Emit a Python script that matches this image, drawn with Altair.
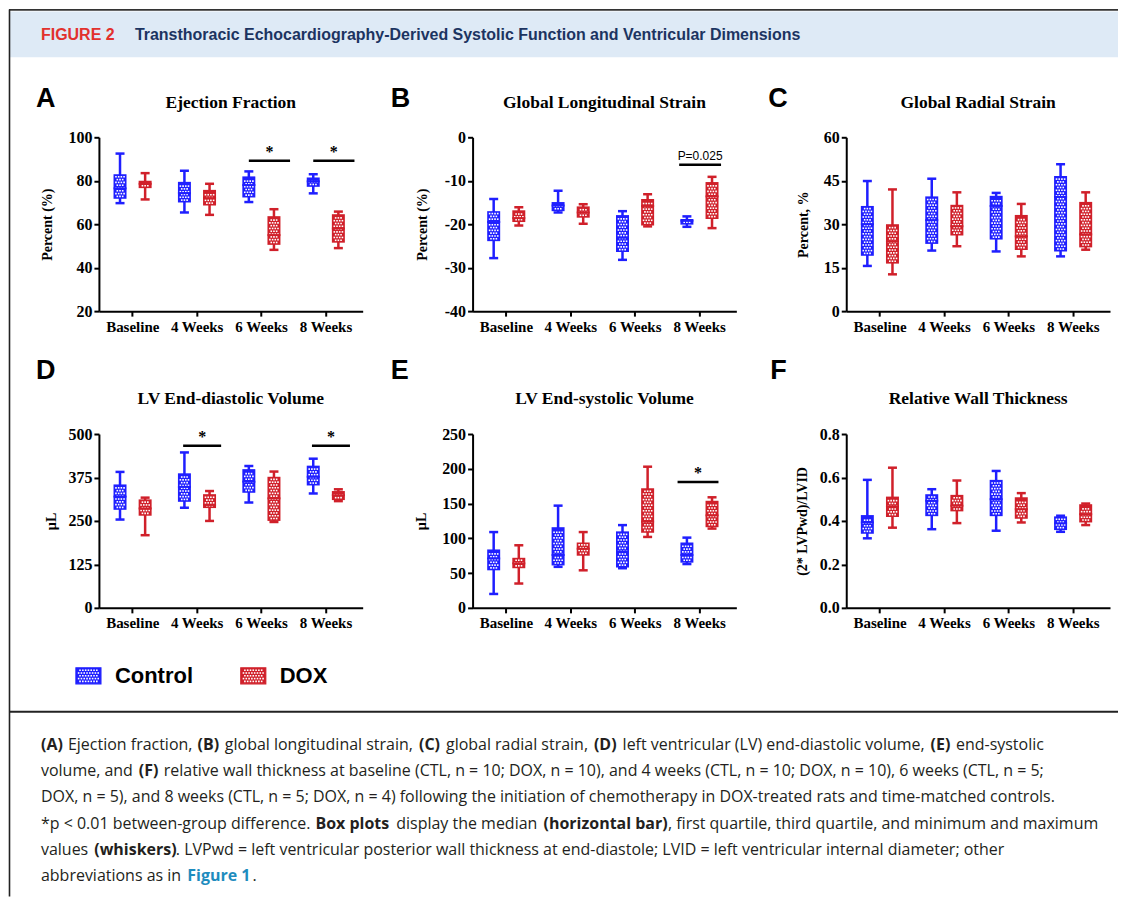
import json
import altair as alt
import pandas as pd

# ---------------- data ----------------
CATEGORIES = ["Baseline", "4 Weeks", "6 Weeks", "8 Weeks"]
GROUPS = ["Control", "DOX"]

# five-number summaries per category: [min, Q1, median, Q3, max]
EF_CONTROL = [[69.7, 71.7, 76.5, 83.0, 92.5], [65.4, 70.0, 74.3, 79.5, 84.6],
              [70.2, 72.3, 78.0, 82.0, 84.3], [74.2, 77.2, 79.7, 81.5, 83.0]]
EF_DOX = [[71.4, 76.6, 78.6, 80.0, 83.5], [64.3, 68.6, 72.0, 75.8, 78.6],
          [48.2, 50.5, 55.0, 63.7, 66.9], [49.0, 51.5, 58.0, 64.6, 65.8]]
GLS_CONTROL = [[-27.8, -23.9, -19.5, -17.0, -14.2], [-17.3, -17.0, -15.7, -14.9, -12.3],
               [-28.2, -26.4, -23.1, -17.9, -17.0], [-20.6, -20.1, -19.2, -18.8, -18.2]]
GLS_DOX = [[-20.3, -19.5, -18.6, -16.8, -16.1], [-19.9, -18.5, -17.3, -15.9, -15.4],
           [-20.5, -20.3, -15.8, -14.2, -13.1], [-20.9, -18.8, -13.6, -10.3, -9.1]]
GRS_CONTROL = [[15.6, 19.1, 30.0, 36.3, 44.9], [20.9, 23.2, 31.4, 39.6, 45.7],
               [20.6, 24.7, 36.3, 39.8, 40.8], [18.9, 20.6, 39.4, 46.6, 50.7]]
GRS_DOX = [[12.7, 16.4, 24.1, 30.0, 42.0], [22.4, 26.1, 29.3, 36.7, 41.0],
           [18.9, 21.1, 25.8, 33.2, 37.0], [21.2, 22.0, 26.5, 37.7, 41.0]]
EDV_CONTROL = [[254, 282, 320, 355, 391], [288, 305, 348, 387, 447],
               [303, 331, 363, 399, 408], [329, 352, 377, 409, 429]]
EDV_DOX = [[209, 265, 286, 312, 317], [250, 287, 296, 327, 336],
           [247, 250, 315, 377, 392], [307, 310, 324, 336, 341]]
ESV_CONTROL = [[20, 54, 71, 84, 109], [59, 61, 76, 116, 147],
               [57, 58, 81, 110, 119], [63, 65, 76, 94, 101]]
ESV_DOX = [[35, 57, 64, 72, 90], [54, 75, 85, 94, 109],
           [102, 108, 124, 172, 203], [114, 116, 133, 154, 159]]
RWT_CONTROL = [[0.320, 0.341, 0.393, 0.427, 0.589], [0.362, 0.422, 0.493, 0.523, 0.546],
               [0.355, 0.422, 0.500, 0.589, 0.630], [0.350, 0.358, 0.389, 0.421, 0.424]]
RWT_DOX = [[0.369, 0.418, 0.467, 0.512, 0.645], [0.390, 0.444, 0.470, 0.520, 0.586],
           [0.393, 0.410, 0.454, 0.509, 0.528], [0.381, 0.393, 0.431, 0.477, 0.480]]

# significance annotations
SIG_PANEL = ["A", "A", "B", "D", "D", "E"]
SIG_CATEGORY = ["6 Weeks", "8 Weeks", "8 Weeks", "4 Weeks", "8 Weeks", "8 Weeks"]
SIG_VALUE = [89.2, 89.2, -6.3, 466, 466, 181]
SIG_LABEL = ["*", "*", "P=0.025", "*", "*", "*"]

HEADER_TAG = "FIGURE 2"
HEADER_TITLE = "Transthoracic Echocardiography-Derived Systolic Function and Ventricular Dimensions"

# caption: per line, segments of (text, style, joined-with-space?)
# style: 0 regular, 1 bold, 2 bold link
CAPTION_LINES = [
    [("(A)", 1, False), ("Ejection fraction,", 0, True), ("(B)", 1, True),
     ("global longitudinal strain,", 0, True), ("(C)", 1, True), ("global radial strain,", 0, True),
     ("(D)", 1, True), ("left ventricular (LV) end-diastolic volume,", 0, True),
     ("(E)", 1, True), ("end-systolic", 0, True)],
    [("volume, and", 0, False), ("(F)", 1, True),
     ("relative wall thickness at baseline (CTL, n = 10; DOX, n = 10), and 4 weeks (CTL, n = 10; DOX, n = 10), 6 weeks (CTL, n = 5;", 0, True)],
    [("DOX, n = 5), and 8 weeks (CTL, n = 5; DOX, n = 4) following the initiation of chemotherapy in DOX-treated rats and time-matched controls.", 0, False)],
    [("*p < 0.01 between-group difference.", 0, False), ("Box plots", 1, True),
     ("display the median", 0, True), ("(horizontal bar)", 1, True),
     (", first quartile, third quartile, and minimum and maximum", 0, False)],
    [("values", 0, False), ("(whiskers)", 1, True),
     (". LVPwd = left ventricular posterior wall thickness at end-diastole; LVID = left ventricular internal diameter; other", 0, False)],
    [("abbreviations as in", 0, False), ("Figure 1", 2, True), (".", 0, False)],
]

# ---------------- style ----------------
BLUE, RED = "#1f1fff", "#d0202a"
SERIF, SANS, CAP_FONT = "Liberation Serif", "Liberation Sans", "Open Sans"
CAP_SIZE = 16
W, H = 264, 174
XDOM = [-0.44, 3.5]
OFFS = {"Control": -0.19, "DOX": 0.2}
SIG_SPAN = {"A": (-0.19, 0.45), "B": (-0.31, 0.34), "D": (-0.21, 0.38), "E": (-0.335, 0.30)}
BAR = "M-1,0L1,0"
DOT_PITCH = 2.8
EVEN_COLS = "[-2.8, 0, 2.8]"
ODD_COLS = "[-4.2, -1.4, 1.4, 4.2]"
ORIGIN_X, ORIGIN_Y = 98, 135   # page position of panel A plot origin (reference px)

# approximate advance widths (per 2048 em) used to chain caption segments
ADV = {" ": 532, "(": 600, ")": 600, "*": 1060, ",": 490, "-": 640, ".": 530, ";": 545,
       "<": 1140, "=": 1171, "A": 1296, "B": 1327, "C": 1292, "D": 1493, "E": 1110,
       "F": 1057, "L": 1073, "V": 1251, "P": 1251, "I": 571, "T": 1139, "X": 1226,
       "O": 1599, "a": 1139, "b": 1255, "c": 975, "d": 1255, "e": 1149, "f": 670,
       "g": 1122, "h": 1257, "i": 518, "j": 500, "k": 1075, "l": 518, "m": 1905, "n": 1257,
       "o": 1237, "p": 1255, "q": 1255, "r": 836, "s": 977, "t": 723, "u": 1257,
       "v": 1026, "w": 1593, "x": 1073, "y": 1028, "z": 977}

PANELS = [
    dict(key="A", title="Ejection Fraction", ytitle="Percent (%)", dom=[20, 100],
         ticks=[20, 40, 60, 80, 100], fmt="d", c=EF_CONTROL, d=EF_DOX, tx=-51, lx=-63, row=0),
    dict(key="B", title="Global Longitudinal Strain", ytitle="Percent (%)", dom=[-40, 0],
         ticks=[-40, -30, -20, -10, 0], fmt="d", c=GLS_CONTROL, d=GLS_DOX, tx=-50, lx=-82, row=0),
    dict(key="C", title="Global Radial Strain", ytitle="Percent, %", dom=[0, 60],
         ticks=[0, 15, 30, 45, 60], fmt="d", c=GRS_CONTROL, d=GRS_DOX, tx=-43, lx=-78, row=0),
    dict(key="D", title="LV End-diastolic Volume", ytitle="\u00b5L", dom=[0, 500],
         ticks=[0, 125, 250, 375, 500], fmt="d", c=EDV_CONTROL, d=EDV_DOX, tx=-47, lx=-63, row=1),
    dict(key="E", title="LV End-systolic Volume", ytitle="\u00b5L", dom=[0, 250],
         ticks=[0, 50, 100, 150, 200, 250], fmt="d", c=ESV_CONTROL, d=ESV_DOX, tx=-51, lx=-82, row=1),
    dict(key="F", title="Relative Wall Thickness", ytitle="(2* LVPwd)/LVID", dom=[0, 0.8],
         ticks=[0, 0.2, 0.4, 0.6, 0.8], fmt=".1f", c=RWT_CONTROL, d=RWT_DOX, tx=-44, lx=-76, row=1),
]


def box_frame(ctrl, dox):
    rows = []
    for g, arr in (("Control", ctrl), ("DOX", dox)):
        for ci, v in enumerate(arr):
            rows.append(dict(cat=CATEGORIES[ci], ci=ci, group=g,
                             lo=v[0], q1=v[1], med=v[2], q3=v[3], hi=v[4]))
    return pd.DataFrame(rows)


def one():
    return alt.Chart(pd.DataFrame({"t": [0]}))


def label_layer(text, x, y, size, font, weight="bold", color="black", align="left",
                baseline="alphabetic"):
    return one().mark_text(text=text, align=align, baseline=baseline, font=font, fontSize=size,
                           fontWeight=weight, color=color).encode(x=alt.value(x), y=alt.value(y))


def rect_layer(x, x2, y, y2, fill, stroke=None, sw=0):
    kw = dict(fill=fill)
    if stroke:
        kw.update(stroke=stroke, strokeWidth=sw)
    return one().mark_rect(**kw).encode(
        x=alt.value(x), x2=alt.value(x2), y=alt.value(y), y2=alt.value(y2))


def rule_layer(x, x2, y, y2, color, sw):
    return one().mark_rule(color=color, strokeWidth=sw).encode(
        x=alt.value(x), x2=alt.value(x2), y=alt.value(y), y2=alt.value(y2))


def text_width(s, bold):
    w = sum(ADV.get(ch, 1171) for ch in s) / 2048 * CAP_SIZE
    return w * (1.08 if bold else 1.0)


def caption_layers():
    rows = []
    for li, segs in enumerate(CAPTION_LINES):
        y = 748 + 26.3 * li - ORIGIN_Y
        x = 40.0
        for k, (text, style, spaced) in enumerate(segs):
            if k > 0:
                x += (text_width(" ", False) + 1.8) if spaced else 0.8
            rows.append(dict(text=text, style=style, x=x - ORIGIN_X, y=y))
            x += text_width(text, style > 0)
    df = pd.DataFrame(rows)
    out = []
    for style, weight, color in ((0, "normal", "#231f20"), (1, "bold", "#231f20"), (2, "bold", "#1e8cbe")):
        out.append(alt.Chart(df).transform_filter(f"datum.style == {style}").mark_text(
            align="left", baseline="alphabetic", font=CAP_FONT, fontSize=CAP_SIZE,
            fontWeight=weight, color=color).encode(
            x=alt.X("x:Q", scale=None), y=alt.Y("y:Q", scale=None), text="text:N"))
    return out


def legend_swatch(x, y, color):
    sq = rect_layer(x, x + 25, y, y + 16, color, color, 1.2)
    dots = (one()
            .transform_calculate(rows="sequence(0, 5)")
            .transform_flatten(["rows"], as_=["r"])
            .transform_calculate(cols="datum.r % 2 == 0 ? [-8.4,-5.6,-2.8,0,2.8,5.6,8.4] : [-9.8,-7,-4.2,-1.4,1.4,4.2,7,9.8]")
            .transform_flatten(["cols"], as_=["c"])
            .transform_calculate(px=f"{x + 12.5} + datum.c", py=f"{y + 2.4} + datum.r * {DOT_PITCH}")
            .mark_square(size=2.6, color="white", opacity=1)
            .encode(x=alt.X("px:Q", scale=None), y=alt.Y("py:Q", scale=None)))
    return [sq, dots]


cat_expr = json.dumps(CATEGORIES) + "[datum.value]"
xscale = alt.Scale(domain=XDOM, nice=False, zero=False)
xaxis = alt.Axis(values=[0, 1, 2, 3], labelExpr=cat_expr, title=None, grid=False,
                 labelFontSize=15, labelPadding=3)
offs_expr = f"datum.ci + (datum.group == 'Control' ? {OFFS['Control']} : {OFFS['DOX']})"
PX_X = (XDOM[1] - XDOM[0]) / W


def make_panel(p):
    df = box_frame(p["c"], p["d"])
    span = p["dom"][1] - p["dom"][0]
    px_y = span / H
    ystep = DOT_PITCH * px_y
    margin = 2.4 * px_y
    yscale = alt.Scale(domain=p["dom"], nice=False, zero=False)
    ykw = dict(values=p["ticks"], title=p["ytitle"], grid=False, titleX=p["tx"],
               titleBaseline="middle", titleAngle=-90, labelFontSize=16, labelPadding=2)
    if p["key"] == "B":
        ykw["labelExpr"] = "datum.value == 0 ? '0' : '-' + format(abs(datum.value), 'd')"
    else:
        ykw["format"] = p["fmt"]
    yaxis = alt.Axis(**ykw)

    def Y(f):
        return alt.Y(f"{f}:Q", scale=yscale, axis=yaxis)

    X = alt.X("xpos:Q", scale=xscale, axis=xaxis)
    col = alt.Color("group:N", scale=alt.Scale(domain=GROUPS, range=[BLUE, RED]), legend=None)

    base = alt.Chart(df).transform_calculate(xpos=offs_expr)
    whisk = base.mark_rule(strokeWidth=2.5).encode(x=X, y=Y("lo"), y2="hi:Q", color=col)
    cap_lo = base.mark_point(shape=BAR, size=81, filled=False, strokeWidth=2.5, opacity=1).encode(
        x=X, y=Y("lo"), color=col)
    cap_hi = base.mark_point(shape=BAR, size=81, filled=False, strokeWidth=2.5, opacity=1).encode(
        x=X, y=Y("hi"), color=col)
    box = base.mark_bar(size=13, strokeWidth=2.5).encode(x=X, y=Y("q1"), y2="q3:Q", color=col)
    dots = (base
            .transform_calculate(n=f"floor((datum.q3 - datum.q1 - {2 * margin}) / {ystep}) + 1")
            .transform_calculate(rows="sequence(0, max(datum.n, 0))")
            .transform_flatten(["rows"], as_=["r"])
            .transform_calculate(cols=f"datum.r % 2 == 0 ? {EVEN_COLS} : {ODD_COLS}")
            .transform_flatten(["cols"], as_=["c"])
            .transform_calculate(px=f"datum.xpos + datum.c * {PX_X}",
                                 py=f"datum.q1 + {margin} + datum.r * {ystep}")
            .mark_square(size=2.6, color="white", opacity=1)
            .encode(x=alt.X("px:Q", scale=xscale, axis=xaxis), y=Y("py")))
    med = base.mark_point(shape=BAR, size=169, filled=False, strokeWidth=2, opacity=1).encode(
        x=X, y=Y("med"), color=col)
    layers = [whisk, box, dots, cap_lo, cap_hi, med]

    idx = [i for i, k in enumerate(SIG_PANEL) if k == p["key"]]
    if idx:
        lo, hi = SIG_SPAN[p["key"]]
        sdf = pd.DataFrame({
            "ci": [CATEGORIES.index(SIG_CATEGORY[i]) for i in idx],
            "v": [SIG_VALUE[i] for i in idx],
            "label": [SIG_LABEL[i] for i in idx],
        })
        sb = alt.Chart(sdf).transform_calculate(
            x1=f"datum.ci + ({lo})", x2=f"datum.ci + ({hi})", xm=f"datum.ci + ({(lo + hi) / 2})")
        SX = alt.X("x1:Q", scale=xscale, axis=xaxis)
        layers.append(sb.mark_rule(color="black", strokeWidth=2.5).encode(x=SX, x2="x2:Q", y=Y("v")))
        layers.append(sb.transform_filter("datum.label == '*'").mark_text(
            font=SERIF, fontWeight="bold", fontSize=16, dy=-9, color="black").encode(
            x=alt.X("xm:Q", scale=xscale, axis=xaxis), y=Y("v"), text="label:N"))
        layers.append(sb.transform_filter("datum.label != '*'").mark_text(
            font=SANS, fontSize=12, dy=-9, color="black").encode(
            x=alt.X("xm:Q", scale=xscale, axis=xaxis), y=Y("v"), text="label:N"))

    ty = -34 if p["row"] == 0 else -35
    ly = -30 if p["row"] == 0 else -55
    layers.append(label_layer(p["title"], W / 2, ty, 17.5, SERIF, align="center", baseline="middle"))
    layers.append(label_layer(p["key"], p["lx"], ly, 27, SANS))

    if p["key"] == "A":
        layers += [
            rect_layer(-90, 1020, -126, -80, "#deeaf6"),
            rule_layer(-90, 1020, -127.5, -127.5, "#333333", 1.6),
            rule_layer(-89.5, -89.5, -128, 760, "#222222", 1.6),
            rule_layer(-90, 1020, 575, 575, "#222222", 2),
            label_layer(HEADER_TAG, -58, -102, 16, SANS, color="#e2312d", baseline="middle"),
            label_layer(HEADER_TITLE, 36, -102, 16, SANS, color="#1c3461", baseline="middle"),
            label_layer("Control", 16, 539, 22, SANS, baseline="middle"),
            label_layer("DOX", 181, 539, 22, SANS, baseline="middle"),
        ]
        layers += caption_layers()
        layers += legend_swatch(-23, 531, BLUE)
        layers += legend_swatch(142, 531, RED)

    return alt.layer(*layers).properties(width=W, height=H)


panels = [make_panel(p) for p in PANELS]

chart = alt.concat(*panels, columns=3, spacing={"row": 123, "column": 110}, bounds="flush").properties(
    padding=0
).configure_view(stroke=None).configure_axis(
    domainColor="black", domainWidth=2, tickColor="black", tickWidth=2, tickSize=5,
    labelFont=SERIF, labelFontWeight="bold", labelColor="black",
    titleFont=SERIF, titleFontWeight="bold", titleFontSize=14, titleColor="black",
)

chart.save("out.html", embed_options={"renderer": "svg", "actions": False})
